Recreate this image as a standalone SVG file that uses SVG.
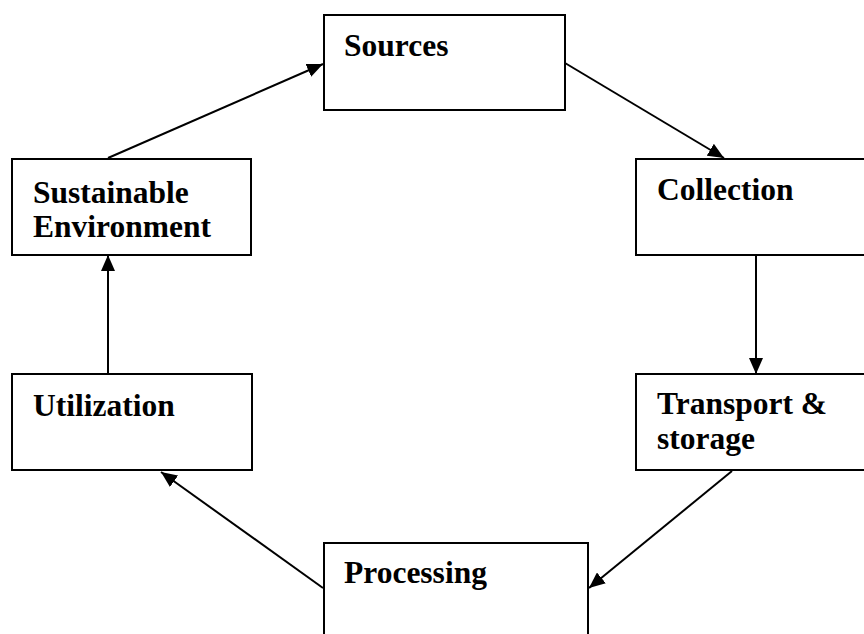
<svg xmlns="http://www.w3.org/2000/svg" width="864" height="634" viewBox="0 0 864 634">
<style>
.box{fill:#fff;stroke:#000;stroke-width:2}
.lbl{font-family:"Liberation Serif","Times New Roman",serif;font-weight:bold;font-size:31.5px;fill:#000}
.con{stroke:#000;stroke-width:2;fill:none;marker-end:url(#ah)}
</style>
<defs>
<marker id="ah" markerUnits="userSpaceOnUse" markerWidth="18" markerHeight="14" refX="16" refY="7" orient="auto">
<path d="M0,0 L16,7 L0,14 Z" fill="#000"/>
</marker>
</defs>
<rect width="864" height="634" fill="#fff"/>
<g id="connectors">
<line class="con" x1="108" y1="158" x2="323" y2="64"/>
<line class="con" x1="565" y1="63" x2="724" y2="158"/>
<line class="con" x1="756" y1="255" x2="756" y2="374"/>
<line class="con" x1="108" y1="374" x2="108" y2="255"/>
<line class="con" x1="323" y1="588" x2="161" y2="472"/>
<line class="con" x1="732" y1="471" x2="589" y2="588"/>
</g>
<g id="sources">
<rect class="box" x="324" y="15" width="241" height="95"/>
<text class="lbl" x="344" y="56">Sources</text>
</g>
<g id="collection">
<rect class="box" x="636" y="159" width="240" height="96"/>
<text class="lbl" x="657" y="200">Collection</text>
</g>
<g id="transport">
<rect class="box" x="636" y="374" width="240" height="96"/>
<text class="lbl" x="657" y="414">Transport &amp;</text>
<text class="lbl" x="657" y="449">storage</text>
</g>
<g id="processing">
<rect class="box" x="324" y="543" width="264" height="110"/>
<text class="lbl" x="344" y="583">Processing</text>
</g>
<g id="utilization">
<rect class="box" x="12" y="374" width="240" height="96"/>
<text class="lbl" x="33" y="416">Utilization</text>
</g>
<g id="sustainable">
<rect class="box" x="12" y="159" width="239" height="96"/>
<text class="lbl" x="33" y="203">Sustainable</text>
<text class="lbl" x="33" y="237">Environment</text>
</g>
</svg>
